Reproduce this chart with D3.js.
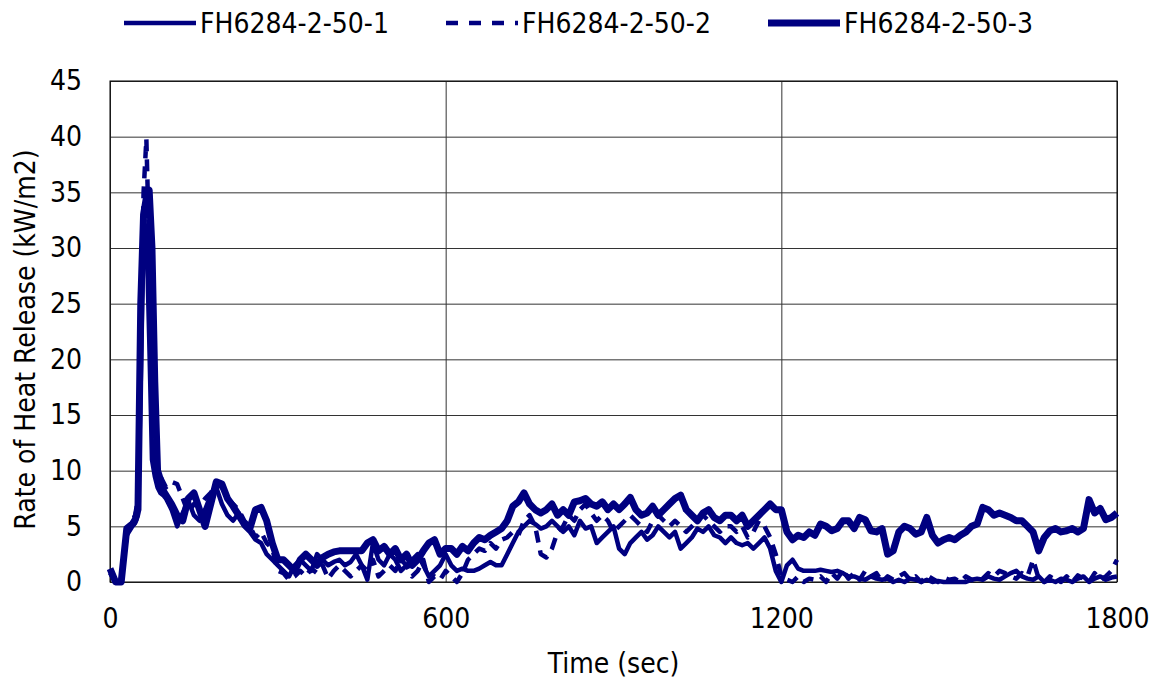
<!DOCTYPE html>
<html>
<head>
<meta charset="utf-8">
<script src="https://cdn.jsdelivr.net/npm/d3@7"></script>
<style>
  body { margin: 0; background: #fff; }
  svg text { font-family: "DejaVu Sans Condensed", "DejaVu Sans", sans-serif; fill: #000; }
</style>
</head>
<body>
<div id="chart"></div>
<script>
var svgWidth = 1153;
var svgHeight = 682;

var margin = { top: 81, right: 36, bottom: 100, left: 110 };
var width = svgWidth - margin.left - margin.right;
var height = svgHeight - margin.top - margin.bottom;

// sample times (sec): 5 s steps around the peak, then 10 s
var times = [0, 10, 20, 30, 40, 45, 50, 55, 60, 65, 70, 75, 80, 85, 90, 95, 100]
    .concat(d3.range(110, 1801, 10));

var seriesNames = ["FH6284-2-50-1", "FH6284-2-50-2", "FH6284-2-50-3"];

var hrr1 = [1.0, 0, 0, 4.2, 5.0, 5.3, 6.0, 18, 31, 32, 22, 11, 9.5, 8.5, 8.0, 7.8, 7.5,
    6.5, 5.0, 6.2, 7.3, 6.0, 5.5, 6.5, 7.8, 8.5, 7.0,
    6.0, 5.5, 6.2, 5.0, 4.5, 3.8, 3.5, 2.5, 2.0, 1.5,
    1.0, 0.5, 1.5, 2.0, 1.5, 1.0, 2.5, 2.0, 1.5, 1.8,
    2.0, 1.5, 1.8, 2.5, 1.5, 0.2, 3.5, 2.0, 1.5, 2.5,
    2.0, 1.0, 1.5, 2.0, 2.5, 1.5, 0.5, 1.0, 1.5, 2.5,
    1.5, 1.0, 1.2, 1.0, 1.0, 1.2, 1.5, 1.8, 1.5, 1.5,
    2.5, 3.5, 4.5, 5.0, 5.5, 5.2, 4.8, 5.0, 5.5, 5.0,
    4.5, 5.0, 4.2, 5.5, 4.8, 5.0, 3.5, 4.0, 4.5, 5.0,
    3.0, 2.5, 3.5, 4.0, 4.5, 3.8, 4.2, 5.0, 4.5, 4.0,
    4.5, 3.0, 3.5, 4.0, 4.8, 4.5, 5.0, 4.2, 4.0, 3.5,
    4.0, 3.5, 3.3, 3.5, 3.0, 3.5, 4.0, 3.0, 1.0, 0.0,
    1.5, 2.0, 1.2, 1.0, 1.0, 1.0, 1.1, 1.0, 0.9, 1.0,
    0.8, 0.5, 0.5, 0.3, 0.2, 0.5, 0.3, 0.2, 0.3, 0.0,
    0.2, 0.0, 0.3, 0.2, 0.0, 0.2, 0.0, 0.1, 0.0, 0.0,
    0.0, 0.0, 0.0, 0.2, 0.3, 0.2, 0.5, 0.3, 0.2, 0.5,
    0.8, 1.0, 0.5, 0.3, 0.2, 0.5, 0.0, 0.2, 0.0, 0.3,
    0.2, 0.0, 0.3, 0.5, 0.0, 0.3, 0.5, 0.2, 0.4, 0.5];

var hrr2 = [0.8, 0, 0.3, 4.5, 5.5, 6.0, 7.5, 22, 35, 39.8, 30, 20, 11, 9.8, 9.5, 9.0, 8.5,
    9.0, 8.8, 7.5, 6.2, 7.0, 6.8, 7.5, 8.0, 8.8, 8.5,
    7.5, 7.0, 6.5, 5.5, 5.0, 4.0, 4.5, 3.5, 3.0, 1.0,
    0.8, 0.2, 0.5, 1.0, 0.5, 1.2, 0.8, 1.5, 0.3, 1.0,
    1.5, 1.0, 0.5, 1.0, 1.5, 1.0, 2.0, 0.5, 1.0, 1.5,
    1.0, 2.0, 1.5, 0.5, 1.0, 2.0, 0.0, 0.5, 0.2, 1.0,
    0.5, 0.0, 0.8, 2.0, 2.5, 3.0, 2.8, 3.5, 3.0, 3.8,
    4.0, 4.5, 4.2, 5.5, 6.0, 5.0, 2.5, 2.2, 3.0, 4.5,
    5.0, 6.0, 5.5, 6.5, 7.0, 6.2, 5.5, 6.0, 5.5, 4.5,
    5.0, 5.5, 6.0, 5.5, 5.0, 4.5, 5.5, 6.0, 5.5, 5.0,
    5.5, 5.0, 4.5, 5.0, 5.5, 6.0, 5.5, 5.0, 4.5, 5.0,
    5.0, 4.5, 5.0, 4.0, 4.5, 5.5, 5.0, 4.0, 2.5, 0.5,
    0.2, 0.0, 0.5, 0.0, 0.3, 0.2, 0.5, 0.0, 0.8, 0.3,
    1.0, 0.3, 0.8, 0.2, 1.0, 0.5, 0.8, 0.0, 0.5, 0.2,
    0.5, 0.8, 0.2, 0.5, 0.0, 0.6, 0.3, 0.0, 0.4, 0.2,
    0.3, 0.0, 0.5, 0.2, 0.0, 0.3, 0.8, 0.5, 1.0, 0.8,
    0.5, 0.3, 0.8, 0.5, 2.0, 0.3, 0.0, 0.5, 0.2, 0.0,
    0.5, 0.0, 0.6, 0.3, 0.0, 0.8, 0.2, 0.5, 1.0, 2.0];

var hrr3 = [1.2, 0, 0, 4.8, 5.2, 5.6, 6.5, 25, 33, 34.5, 35.2, 30, 18, 10, 9.2, 8.2, 7.8,
    7.0, 6.0, 5.5, 7.5, 8.0, 6.5, 5.0, 7.0, 9.0, 8.8,
    7.5, 6.8, 6.0, 5.2, 4.8, 6.5, 6.7, 5.5, 3.5, 2.0,
    2.0, 1.5, 1.0, 2.0, 2.5, 2.0, 1.5, 2.2, 2.5, 2.7,
    2.8, 2.8, 2.8, 2.8, 2.8, 3.5, 3.8, 2.8, 3.2, 2.5,
    3.0, 2.0, 2.5, 1.5, 2.0, 2.8, 3.5, 3.8, 2.5, 3.0,
    3.0, 2.5, 3.2, 2.8, 3.5, 4.0, 3.8, 4.2, 4.5, 4.8,
    5.5, 6.8, 7.2, 8.0, 7.0, 6.5, 6.2, 6.5, 7.0, 6.0,
    6.5, 6.0, 7.2, 7.3, 7.5, 7.0, 6.8, 7.2, 6.5, 7.0,
    6.5, 7.0, 7.6, 6.5, 6.0, 6.2, 6.8, 6.0, 6.5, 7.0,
    7.5, 7.8, 6.5, 6.0, 5.5, 6.2, 6.5, 5.8, 5.5, 6.0,
    6.0, 5.5, 6.0, 5.0, 5.5, 6.0, 6.5, 7.0, 6.5, 6.5,
    4.5, 3.8, 4.2, 4.0, 4.5, 4.2, 5.2, 5.0, 4.6, 4.8,
    5.5, 5.5, 4.8, 5.8, 5.6, 4.6, 4.5, 4.8, 2.5, 2.8,
    4.5, 5.0, 4.8, 4.3, 4.5, 5.8, 4.2, 3.5, 3.8, 4.0,
    3.8, 4.2, 4.5, 5.0, 5.2, 6.7, 6.5, 6.0, 6.2, 6.0,
    5.8, 5.5, 5.5, 5.0, 4.5, 2.8, 4.0, 4.6, 4.8, 4.5,
    4.6, 4.8, 4.5, 4.8, 7.4, 6.2, 6.6, 5.6, 5.8, 6.2];

var xTicks = [0, 600, 1200, 1800];
var yTicks = [0, 5, 10, 15, 20, 25, 30, 35, 40, 45];

var lineColor = "#000080";
var fontSize = 28;

var svg = d3.select("#chart")
    .append("svg")
    .attr("width", svgWidth)
    .attr("height", svgHeight);

var chartGroup = svg.append("g")
    .attr("transform", `translate(${margin.left}, ${margin.top})`);

var xScale = d3.scaleLinear().domain([0, 1800]).range([0, width]);
var yScale = d3.scaleLinear().domain([0, 45]).range([height, 0]);

// grid
chartGroup.append("g")
    .call(d3.axisLeft(yScale).tickValues(yTicks).tickSize(-width).tickFormat(""))
    .call(g => g.select(".domain").remove())
    .selectAll("line").attr("stroke", "#333").attr("stroke-width", 1);
chartGroup.append("g")
    .call(d3.axisBottom(xScale).tickValues(xTicks).tickSize(height).tickFormat(""))
    .call(g => g.select(".domain").remove())
    .selectAll("line").attr("stroke", "#333").attr("stroke-width", 1);

// frame
chartGroup.append("rect")
    .attr("width", width).attr("height", height)
    .attr("fill", "none").attr("stroke", "#000").attr("stroke-width", 1);

// lines
var seriesData = [hrr1, hrr2, hrr3];
var styles = [
    { w: 4.5, dash: null },
    { w: 4.5, dash: "12,8" },
    { w: 7, dash: null }
];

var line = d3.line()
    .x((d, i) => xScale(times[i]))
    .y(d => yScale(d));

svg.append("clipPath").attr("id", "clip")
    .append("rect").attr("x", -3).attr("y", -4).attr("width", width + 6).attr("height", height + 8);

seriesData.forEach(function(vals, k) {
    chartGroup.append("path")
        .datum(vals)
        .attr("clip-path", "url(#clip)")
        .attr("d", line)
        .attr("fill", "none")
        .attr("stroke", lineColor)
        .attr("stroke-width", styles[k].w)
        .attr("stroke-linejoin", "round")
        .attr("stroke-dasharray", styles[k].dash);
});

// axes labels
var leftAxis = d3.axisLeft(yScale).tickValues(yTicks).tickSize(0).tickPadding(28);
chartGroup.append("g").call(leftAxis)
    .call(g => g.select(".domain").remove())
    .selectAll("text").attr("font-size", fontSize);

var bottomAxis = d3.axisBottom(xScale).tickValues(xTicks).tickSize(0).tickPadding(26)
    .tickFormat(d3.format("d"));
chartGroup.append("g")
    .attr("transform", `translate(0, ${height})`)
    .call(bottomAxis)
    .call(g => g.select(".domain").remove())
    .selectAll("text").attr("font-size", fontSize);

svg.selectAll(".tick text").style("font-family", "'DejaVu Sans Condensed', 'DejaVu Sans', sans-serif").attr("fill", "#000");

chartGroup.append("text")
    .attr("transform", "rotate(-90)")
    .attr("x", -height / 2 - 8)
    .attr("y", -margin.left + 35)
    .attr("text-anchor", "middle")
    .attr("font-size", fontSize)
    .text("Rate of Heat Release (kW/m2)");

chartGroup.append("text")
    .attr("x", width / 2)
    .attr("y", height + 91)
    .attr("text-anchor", "middle")
    .attr("font-size", fontSize)
    .text("Time (sec)");

// legend
var legendX = [124, 446, 768];
var legend = svg.append("g");
seriesNames.forEach(function(name, k) {
    legend.append("line")
        .attr("x1", legendX[k]).attr("x2", legendX[k] + 72)
        .attr("y1", 23).attr("y2", 23)
        .attr("stroke", lineColor)
        .attr("stroke-width", styles[k].w)
        .attr("stroke-dasharray", k === 1 ? "12,11" : null);
    legend.append("text")
        .attr("x", legendX[k] + 76)
        .attr("y", 33)
        .attr("font-size", fontSize)
        .text(name);
});
</script>
</body>
</html>
